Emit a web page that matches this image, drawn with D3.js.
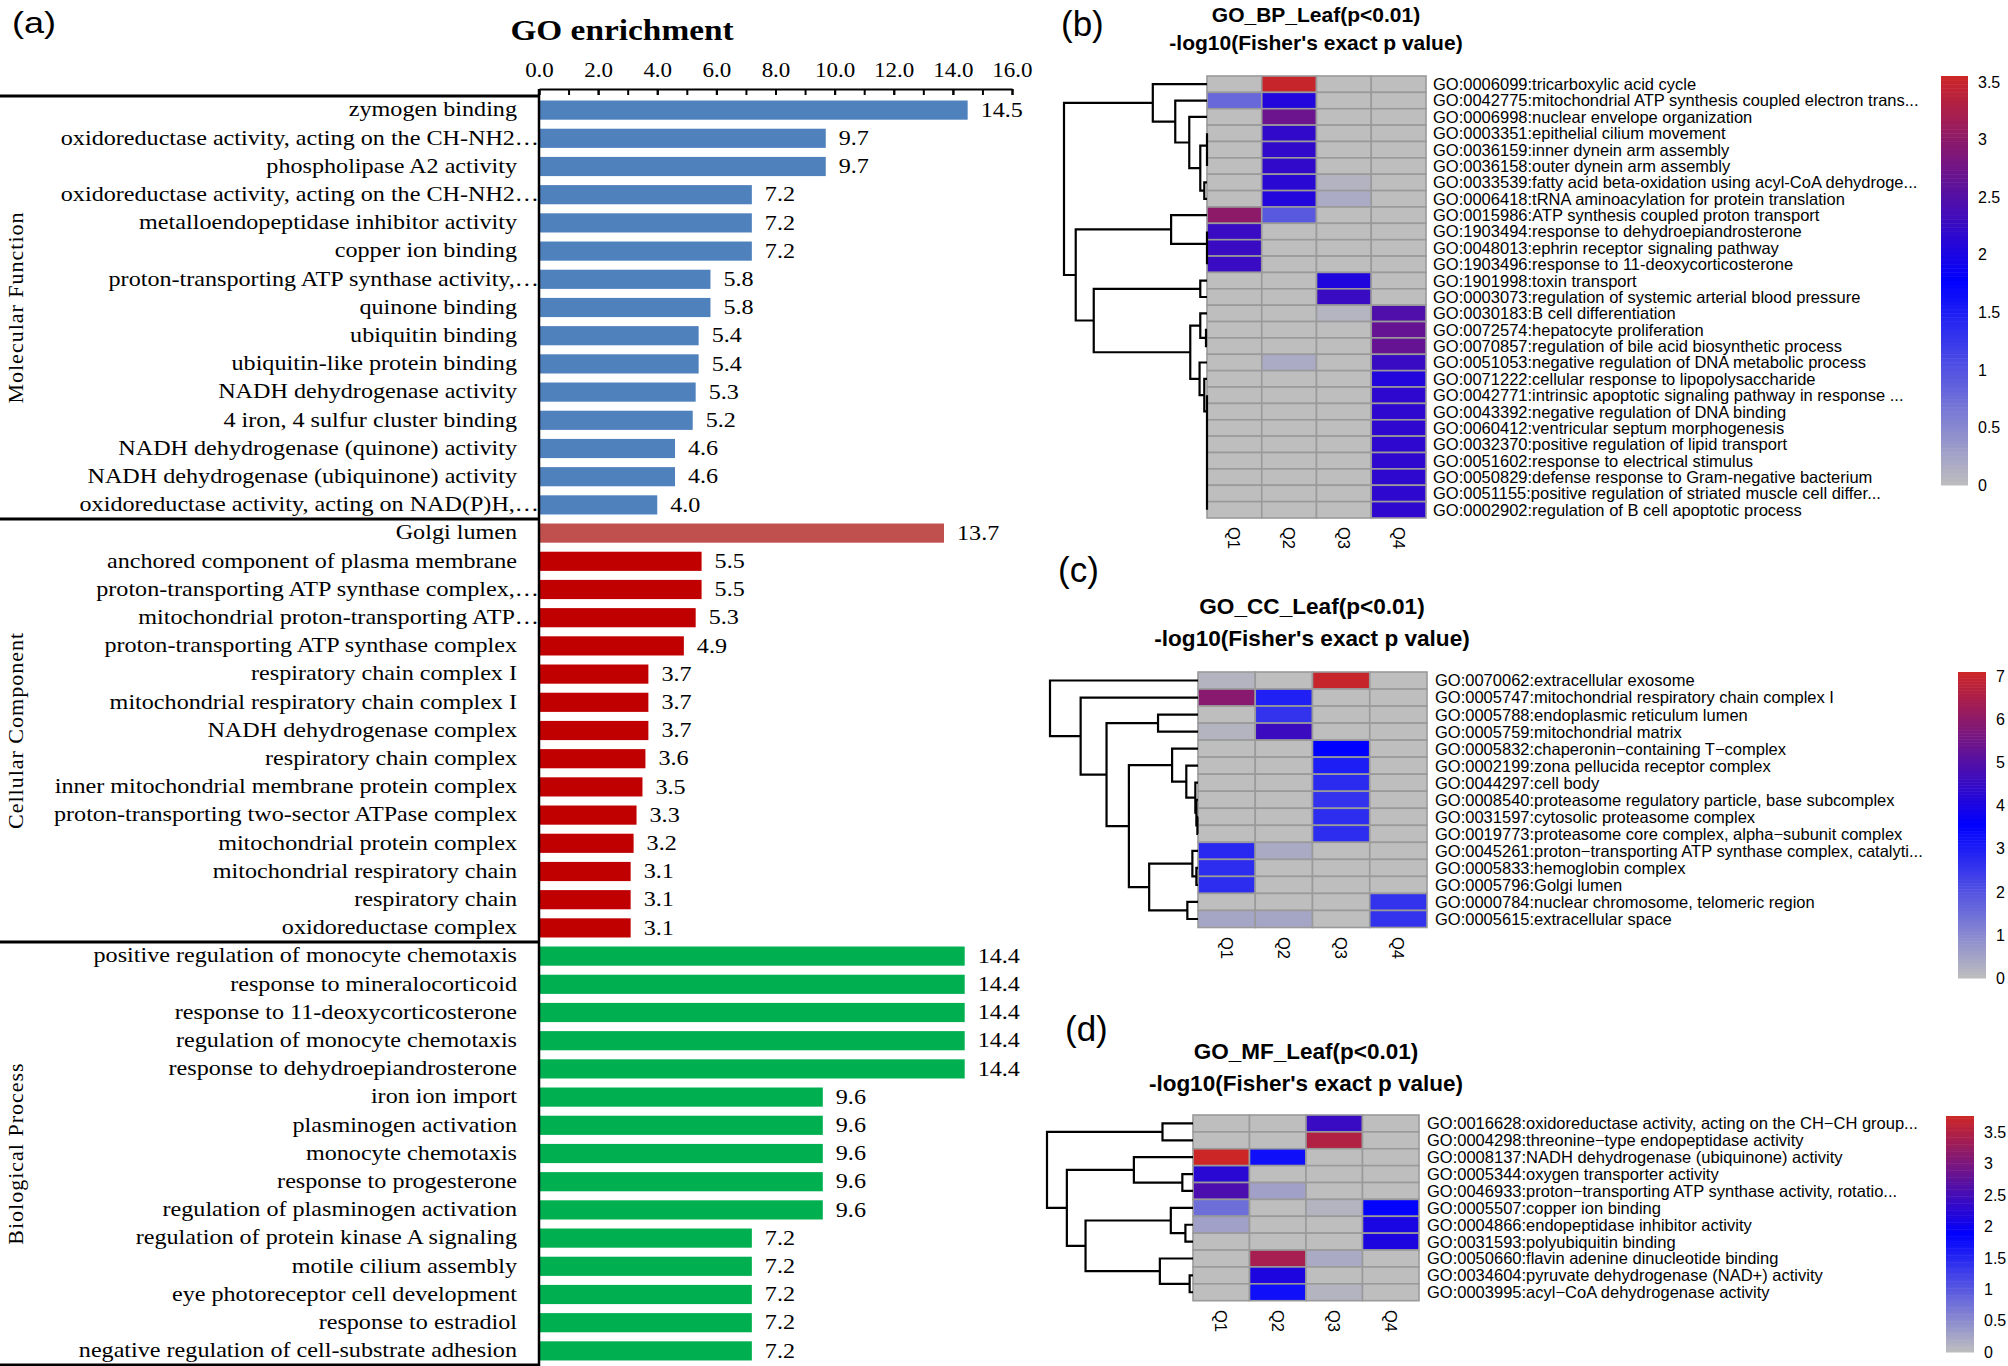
<!DOCTYPE html>
<html><head><meta charset="utf-8">
<script src="https://cdn.jsdelivr.net/npm/d3@7"></script>
<style>body{margin:0;background:#fff}svg{display:block}</style>
</head><body><svg id="c" width="2008" height="1366"></svg>
<script>
// ---------------- Panel (a) data ----------------
const groupNames = ["Molecular Function", "Cellular Component", "Biological Process"];
const mfLabels = ["zymogen binding","oxidoreductase activity, acting on the CH-NH2…","phospholipase A2 activity","oxidoreductase activity, acting on the CH-NH2…","metalloendopeptidase inhibitor activity","copper ion binding","proton-transporting ATP synthase activity,…","quinone binding","ubiquitin binding","ubiquitin-like protein binding","NADH dehydrogenase activity","4 iron, 4 sulfur cluster binding","NADH dehydrogenase (quinone) activity","NADH dehydrogenase (ubiquinone) activity","oxidoreductase activity, acting on NAD(P)H,…"];
const mfValues = [14.5,9.7,9.7,7.2,7.2,7.2,5.8,5.8,5.4,5.4,5.3,5.2,4.6,4.6,4.0];
const ccLabels = ["Golgi lumen","anchored component of plasma membrane","proton-transporting ATP synthase complex,…","mitochondrial proton-transporting ATP…","proton-transporting ATP synthase complex","respiratory chain complex I","mitochondrial respiratory chain complex I","NADH dehydrogenase complex","respiratory chain complex","inner mitochondrial membrane protein complex","proton-transporting two-sector ATPase complex","mitochondrial protein complex","mitochondrial respiratory chain","respiratory chain","oxidoreductase complex"];
const ccValues = [13.7,5.5,5.5,5.3,4.9,3.7,3.7,3.7,3.6,3.5,3.3,3.2,3.1,3.1,3.1];
const bpLabels = ["positive regulation of monocyte chemotaxis","response to mineralocorticoid","response to 11-deoxycorticosterone","regulation of monocyte chemotaxis","response to dehydroepiandrosterone","iron ion import","plasminogen activation","monocyte chemotaxis","response to progesterone","regulation of plasminogen activation","regulation of protein kinase A signaling","motile cilium assembly","eye photoreceptor cell development","response to estradiol","negative regulation of cell-substrate adhesion"];
const bpValues = [14.4,14.4,14.4,14.4,14.4,9.6,9.6,9.6,9.6,9.6,7.2,7.2,7.2,7.2,7.2];
const xMajorTicks = [0,2,4,6,8,10,12,14,16];
const xMinorTicks = [0,1,2,3,4,5,6,7,8,9,10,11,12,13,14,15,16];

// ---------------- Heatmap data ----------------
const quarters = ["Q1","Q2","Q3","Q4"];
const hmBPLabels = ["GO:0006099:tricarboxylic acid cycle","GO:0042775:mitochondrial ATP synthesis coupled electron trans...","GO:0006998:nuclear envelope organization","GO:0003351:epithelial cilium movement","GO:0036159:inner dynein arm assembly","GO:0036158:outer dynein arm assembly","GO:0033539:fatty acid beta-oxidation using acyl-CoA dehydroge...","GO:0006418:tRNA aminoacylation for protein translation","GO:0015986:ATP synthesis coupled proton transport","GO:1903494:response to dehydroepiandrosterone","GO:0048013:ephrin receptor signaling pathway","GO:1903496:response to 11-deoxycorticosterone","GO:1901998:toxin transport","GO:0003073:regulation of systemic arterial blood pressure","GO:0030183:B cell differentiation","GO:0072574:hepatocyte proliferation","GO:0070857:regulation of bile acid biosynthetic process","GO:0051053:negative regulation of DNA metabolic process","GO:0071222:cellular response to lipopolysaccharide","GO:0042771:intrinsic apoptotic signaling pathway in response ...","GO:0043392:negative regulation of DNA binding","GO:0060412:ventricular septum morphogenesis","GO:0032370:positive regulation of lipid transport","GO:0051602:response to electrical stimulus","GO:0050829:defense response to Gram-negative bacterium","GO:0051155:positive regulation of striated muscle cell differ...","GO:0002902:regulation of B cell apoptotic process"];
const hmBPValues = [
 [0,3.5,0,0],[0.8,2.07,0,0],[0,2.7,0,0],[0,2.2,0,0],[0,2.2,0,0],[0,2.2,0,0],[0,2.13,0.1,0],[0,2.07,0.18,0],
 [3.0,0.94,0,0],[2.27,0,0,0],[2.27,0,0,0],[2.27,0,0,0],[0,0,2.05,0],[0,0,2.27,0],[0,0,0.08,2.47],[0,0,0,2.66],
 [0,0,0,2.66],[0,0.18,0,2.27],[0,0,0,2.07],[0,0,0,2.17],[0,0,0,2.17],[0,0,0,2.17],[0,0,0,2.17],[0,0,0,2.17],
 [0,0,0,2.17],[0,0,0,2.17],[0,0,0,2.17]];
const hmBPTree = [1.0,
  [0.379, 0, [0.222, 1, [0.124, 2, [0.047, [0, 3, [0, 4, 5]], [0.019, 6, 7]]]]],
  [0.918,
    [0.251, 8, [0, 9, [0, 10, 11]]],
    [0.792,
      [0.047, 12, 13],
      [0.117,
        [0.047, 14, [0.007, 15, 16]],
        [0.052, 17, [0.019, 18, [0, 19, [0, 20, [0, 21, [0, 22, [0, 23, [0, 24, [0, 25, 26]]]]]]]]]]]]];
const hmBPMax = 3.55;
const hmBPTicks = [0,0.5,1,1.5,2,2.5,3,3.5];

const hmCCLabels = ["GO:0070062:extracellular exosome","GO:0005747:mitochondrial respiratory chain complex I","GO:0005788:endoplasmic reticulum lumen","GO:0005759:mitochondrial matrix","GO:0005832:chaperonin\u2212containing T\u2212complex","GO:0002199:zona pellucida receptor complex","GO:0044297:cell body","GO:0008540:proteasome regulatory particle, base subcomplex","GO:0031597:cytosolic proteasome complex","GO:0019773:proteasome core complex, alpha\u2212subunit complex","GO:0045261:proton\u2212transporting ATP synthase complex, catalyti...","GO:0005833:hemoglobin complex","GO:0005796:Golgi lumen","GO:0000784:nuclear chromosome, telomeric region","GO:0005615:extracellular space"];
const hmCCValues = [
 [0.18,0,7.0,0],[5.9,2.95,0,0],[0,2.6,0,0],[0.18,4.58,0,0],[0,0,3.55,0],[0,0,3.0,0],[0,0,2.75,0],[0,0,2.6,0],
 [0,0,2.7,0],[0,0,2.7,0],[2.8,0.37,0,0],[2.7,0,0,0],[2.7,0,0,0],[0,0,0,2.6],[0.46,0.46,0,2.6]];
const hmCCTree = [1.0, 0, [0.793, 1, [0.618, [0.270, 2, 3],
  [0.467, [0.175, 4, [0.079, 5, [0.018, 6, [0.011, 7, [0.004, 8, 9]]]]],
          [0.330, [0.038, 10, [0.011, 11, 12]], [0.072, 13, 14]]]]]];
const hmCCMax = 7.1;
const hmCCTicks = [0,1,2,3,4,5,6,7];

const hmMFLabels = ["GO:0016628:oxidoreductase activity, acting on the CH\u2212CH group...","GO:0004298:threonine\u2212type endopeptidase activity","GO:0008137:NADH dehydrogenase (ubiquinone) activity","GO:0005344:oxygen transporter activity","GO:0046933:proton\u2212transporting ATP synthase activity, rotatio...","GO:0005507:copper ion binding","GO:0004866:endopeptidase inhibitor activity","GO:0031593:polyubiquitin binding","GO:0050660:flavin adenine dinucleotide binding","GO:0034604:pyruvate dehydrogenase (NAD+) activity","GO:0003995:acyl\u2212CoA dehydrogenase activity"];
const hmMFValues = [
 [0,0,2.4,0],[0,0,3.5,0],[3.76,1.73,0,0],[2.26,0,0,0],[2.58,0.3,0,0],[0.79,0,0.1,1.85],
 [0.3,0,0,2.12],[0,0,0,2.15],[0,3.4,0.2,0],[0,2.15,0,0],[0,1.73,0.1,0]];
const hmMFTree = [1.0, [0.209, 0, 1], [0.864, [0.405, 2, [0.073, 3, 4]],
  [0.736, [0.152, 5, [0.052, 6, 7]], [0.227, 8, [0.023, 9, 10]]]]];
const hmMFMax = 3.76;
const hmMFTicks = [0,0.5,1,1.5,2,2.5,3,3.5];

// ---------------- drawing ----------------
const svg = d3.select("#c");
const SERIF = "'Liberation Serif','Times New Roman',serif";
const SANS = "'Liberation Sans',Arial,sans-serif";
const STRETCH = "scale(1.15,1)";

// Panel (a)
const groupColors = ["#4F81BD", "#C00000", "#00B050"];
const highlightColor = "#C0504D";
const rows = [];
[[mfLabels, mfValues], [ccLabels, ccValues], [bpLabels, bpValues]].forEach(([L, V], g) => {
  L.forEach((l, i) => rows.push({g, i, label: l, v: V[i]}));
});
const xA = d3.scaleLinear().domain([0, 16]).range([539, 1012]);
const yA = d3.scaleBand().domain(d3.range(rows.length)).range([96, 1365]).paddingInner(0.32).paddingOuter(0.16);
const gA = svg.append("g");

gA.append("text").attr("transform", "translate(12,33) scale(1.2,1)").attr("font-family", SANS).attr("font-size", 30).text("(a)");
gA.append("text").attr("transform", `translate(622,40) ${STRETCH}`).attr("text-anchor", "middle")
  .attr("font-family", SERIF).attr("font-weight", "bold").attr("font-size", 29).text("GO enrichment");

gA.selectAll("rect.bar").data(rows).enter().append("rect").attr("class", "bar")
  .attr("x", xA(0)).attr("y", (d, k) => yA(k)).attr("width", d => xA(d.v) - xA(0)).attr("height", yA.bandwidth())
  .attr("fill", d => (d.g === 1 && d.i === 0) ? highlightColor : groupColors[d.g]);

gA.selectAll("text.lab").data(rows).enter().append("text").attr("class", "lab")
  .attr("transform", (d, k) => `translate(${d.label.endsWith("…") ? 539 : 517},${yA(k) + yA.bandwidth() / 2}) ${STRETCH}`)
  .attr("dy", "0.3em").attr("text-anchor", "end").attr("font-family", SERIF).attr("font-size", 21)
  .text(d => d.label);

gA.selectAll("text.val").data(rows).enter().append("text").attr("class", "val")
  .attr("transform", (d, k) => `translate(${xA(d.v) + 13},${yA(k) + yA.bandwidth() / 2}) ${STRETCH}`)
  .attr("dy", "0.32em").attr("font-family", SERIF).attr("font-size", 21)
  .text(d => d3.format(".1f")(d.v));

// axis
const axMinor = gA.append("g").attr("transform", "translate(0,89)")
  .call(d3.axisTop(xA).tickValues(xMinorTicks).tickFormat("").tickSizeInner(-6).tickSizeOuter(0));
axMinor.select(".domain").attr("stroke-width", 2.2);
axMinor.selectAll(".tick line").attr("stroke-width", 2);
const axMajor = gA.append("g").attr("transform", "translate(0,89)")
  .call(d3.axisTop(xA).tickValues(xMajorTicks).tickFormat(d3.format(".1f")).tickSizeInner(-6).tickSizeOuter(0).tickPadding(12));
axMajor.select(".domain").remove();
axMajor.selectAll(".tick line").attr("stroke-width", 2);
axMajor.selectAll(".tick text").attr("font-family", SERIF).attr("font-size", 20).attr("transform", STRETCH).attr("fill", "#000");

// vertical axis line and section dividers
gA.append("line").attr("x1", xA(0)).attr("x2", xA(0)).attr("y1", 89).attr("y2", 1366).attr("stroke", "#000").attr("stroke-width", 2.5);
const step = yA.step();
[0, 15, 30, 45].forEach(k => {
  const y = 96 + k * step;
  gA.append("line").attr("x1", 0).attr("x2", xA(0)).attr("y1", y).attr("y2", y).attr("stroke", "#000").attr("stroke-width", 3.2);
});
groupNames.forEach((n, g) => {
  const cy = 96 + (g * 15 + 7.5) * step;
  gA.append("text").attr("transform", `translate(23,${cy}) rotate(-90)`).attr("text-anchor", "middle")
    .attr("font-family", SERIF).attr("font-size", 22).attr("letter-spacing", 1).text(n);
});

// Heatmaps
function heatmap(o) {
  const g = svg.append("g");
  const n = o.labels.length;
  const color = d3.scaleLinear().domain([0, o.vmax / 2, o.vmax]).range(["#BEBEBE", "#0000FF", "#CD2626"]);
  const xs = d3.scaleBand().domain(quarters).range([o.grid[0], o.grid[1]]);
  const ys = d3.scaleBand().domain(d3.range(n)).range([o.grid[2], o.grid[3]]);

  g.append("text").attr("x", o.panelX).attr("y", o.panelY).attr("font-family", SANS).attr("font-size", 35).text(o.panel);
  g.append("text").attr("x", o.titleCx).attr("y", o.titleY).attr("text-anchor", "middle").attr("font-family", SANS)
    .attr("font-weight", "bold").attr("font-size", o.titleSize).text(o.title);
  g.append("text").attr("x", o.titleCx).attr("y", o.subY).attr("text-anchor", "middle").attr("font-family", SANS)
    .attr("font-weight", "bold").attr("font-size", o.titleSize).text("-log10(Fisher's exact p value)");

  const cells = [];
  o.values.forEach((r, i) => r.forEach((v, j) => cells.push({i, q: quarters[j], v})));
  g.selectAll("rect.cell").data(cells).enter().append("rect").attr("class", "cell")
    .attr("x", d => xs(d.q)).attr("y", d => ys(d.i)).attr("width", xs.bandwidth()).attr("height", ys.bandwidth())
    .attr("fill", d => color(d.v)).attr("stroke", "#9A9A9A").attr("stroke-width", 1.6);

  g.selectAll("text.rl").data(o.labels).enter().append("text").attr("class", "rl")
    .attr("x", o.labelX).attr("y", (d, i) => ys(i) + ys.bandwidth() / 2).attr("dy", "0.36em")
    .attr("font-family", SANS).attr("font-size", 16.5).text(d => d);

  g.selectAll("text.ql").data(quarters).enter().append("text").attr("class", "ql")
    .attr("transform", d => `translate(${xs(d) + xs.bandwidth() / 2},${o.qY}) rotate(90)`).attr("dy", "0.36em")
    .attr("font-family", SANS).attr("font-size", 16.5).text(d => d);

  // dendrogram
  const hx = d3.scaleLinear().domain([0, 1]).range([o.grid[0], o.rootX]);
  const segs = [];
  function walk(node) {
    if (typeof node === "number") return {y: ys(node) + ys.bandwidth() / 2, h: 0};
    const [h, a, b] = node;
    const A = walk(a), B = walk(b);
    segs.push(`M${hx(A.h)},${A.y}H${hx(h)}V${B.y}H${hx(B.h)}`);
    return {y: (A.y + B.y) / 2, h};
  }
  walk(o.tree);
  g.append("path").attr("d", segs.join("")).attr("fill", "none").attr("stroke", "#000").attr("stroke-width", 2.2);

  // colour bar
  const cy = d3.scaleLinear().domain([0, o.vmax]).range([o.cbar[3], o.cbar[2]]);
  const N = 100;
  const bands = d3.range(N).map(k => [o.vmax * k / N, o.vmax * (k + 1) / N]);
  g.selectAll("rect.cb").data(bands).enter().append("rect").attr("class", "cb")
    .attr("x", o.cbar[0]).attr("width", o.cbar[1] - o.cbar[0])
    .attr("y", d => cy(d[1])).attr("height", d => cy(d[0]) - cy(d[1]) + 0.5)
    .attr("fill", d => color((d[0] + d[1]) / 2));
  g.selectAll("text.cbt").data(o.ticks).enter().append("text").attr("class", "cbt")
    .attr("x", o.cbar[1] + 10).attr("y", d => cy(d)).attr("dy", "0.36em")
    .attr("font-family", SANS).attr("font-size", 16).text(d => String(d));
}

heatmap({labels: hmBPLabels, values: hmBPValues, tree: hmBPTree, vmax: hmBPMax, ticks: hmBPTicks,
  grid: [1207, 1426, 76, 518], rootX: 1064, labelX: 1433, qY: 527,
  panel: "(b)", panelX: 1061, panelY: 36, title: "GO_BP_Leaf(p<0.01)", titleCx: 1316, titleY: 22, subY: 50, titleSize: 21,
  cbar: [1941, 1968, 76, 485]});
heatmap({labels: hmCCLabels, values: hmCCValues, tree: hmCCTree, vmax: hmCCMax, ticks: hmCCTicks,
  grid: [1198, 1427, 672, 927.5], rootX: 1050, labelX: 1435, qY: 937,
  panel: "(c)", panelX: 1058, panelY: 582, title: "GO_CC_Leaf(p<0.01)", titleCx: 1312, titleY: 614, subY: 646, titleSize: 22.6,
  cbar: [1958, 1986, 672, 978]});
heatmap({labels: hmMFLabels, values: hmMFValues, tree: hmMFTree, vmax: hmMFMax, ticks: hmMFTicks,
  grid: [1193, 1419, 1115, 1300.7], rootX: 1047, labelX: 1427, qY: 1310,
  panel: "(d)", panelX: 1065, panelY: 1041, title: "GO_MF_Leaf(p<0.01)", titleCx: 1306, titleY: 1059, subY: 1091, titleSize: 22.5,
  cbar: [1946, 1974, 1116, 1352]});
</script></body></html>
